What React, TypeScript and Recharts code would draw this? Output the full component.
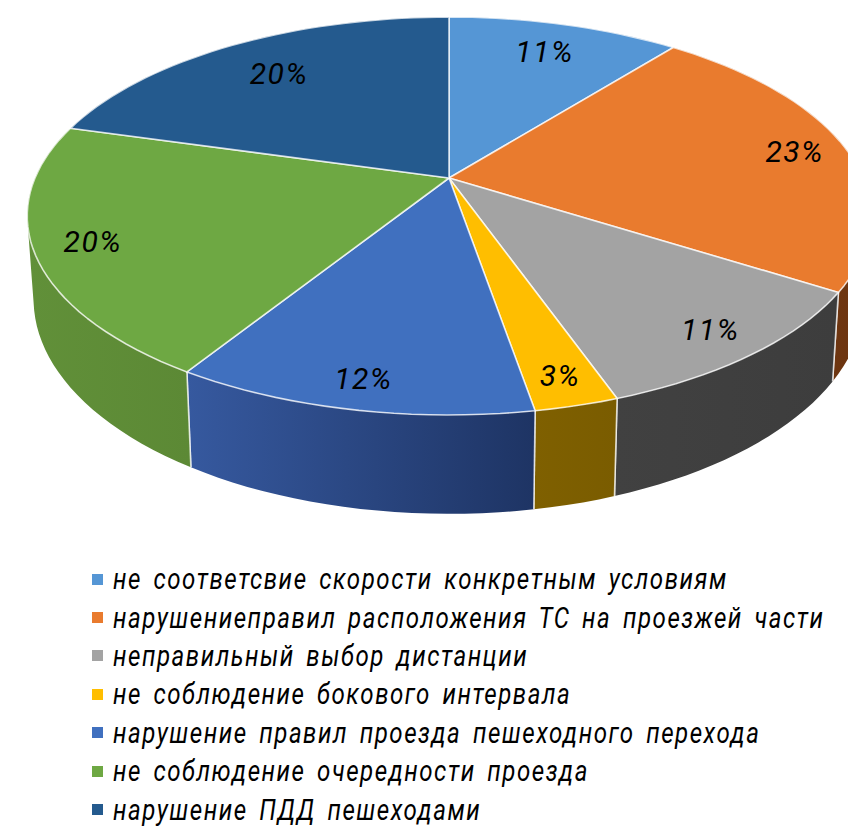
import { PieChart, Pie, Legend } from 'recharts';

const categories = [
  'не соответсвие скорости конкретным условиям',
  'нарушениеправил расположения ТС на проезжей части',
  'неправильный выбор дистанции',
  'не соблюдение бокового интервала',
  'нарушение правил проезда пешеходного перехода',
  'не соблюдение очередности проезда',
  'нарушение ПДД пешеходами',
];
const shares = [10.7, 23.3, 10.6, 2.7, 11.6, 20.5, 20.6];
const shareLabels = ['11%', '23%', '11%', '3%', '12%', '20%', '20%'];

const topColors = ['#5596d5', '#e97b2e', '#a3a3a3', '#ffbe00', '#4070bf', '#6ea843', '#245a8e'];
const wallLight = ['#3a6a96', '#7a3e14', '#414141', '#7f6000', '#36599f', '#619039', '#1f4a72'];
const wallDark = ['#3a6a96', '#6b3410', '#3d3d3d', '#7a5c00', '#1e3464', '#5c8935', '#1f4a72'];
const labelRadius = [0.8, 0.87, 0.88, 0.89, 0.89, 0.867, 0.76];

const rows = categories.map((name, i) => ({ name, value: shares[i], fill: topColors[i] }));

const WIDTH = 848;
const HEIGHT = 827;
const CX = 449;
const CY = 178;
const RX = 414; // outerRadius of the pie, horizontal
const RY = 191.7;
const TILT = 0.191; // perspective of the tilted disc
const DEPTH = 80;
const SHRINK = 0.985;
const RAD = Math.PI / 180;

type Pt = { x: number; y: number };

// unit disc -> screen, with the perspective of the tilted pie
function project(angle: number, r = 1) {
  const u = Math.cos(angle * RAD) * r;
  const v = -Math.sin(angle * RAD) * r;
  const w = 1 - TILT * v;
  return { x: CX + (RX * u) / w, y: CY + (RY * v) / w, w };
}

function lower(p: { x: number; y: number; w: number }) {
  return { x: CX + (p.x - CX) * SHRINK, y: p.y + DEPTH / p.w };
}

function arcPoints(startAngle: number, endAngle: number) {
  const steps = Math.max(2, Math.ceil(Math.abs(endAngle - startAngle) / 2));
  const pts = [];
  for (let i = 0; i <= steps; i++) {
    pts.push(project(startAngle + ((endAngle - startAngle) * i) / steps));
  }
  return pts;
}

const toPath = (pts: Pt[]) =>
  pts.map((p, i) => `${i ? 'L' : 'M'}${p.x.toFixed(1)} ${p.y.toFixed(1)}`).join(' ');

// same winding for every quad, otherwise overlaps cancel under nonzero fill
function wound(pts: Pt[]) {
  let area = 0;
  pts.forEach((p, i) => {
    const q = pts[(i + 1) % pts.length];
    area += p.x * q.y - q.x * p.y;
  });
  return area < 0 ? [...pts].reverse() : pts;
}

function TopSlice(props: any) {
  const pts = arcPoints(props.startAngle, props.endAngle);
  return (
    <path
      d={`M${CX} ${CY} ${toPath(pts).replace('M', 'L')} Z`}
      fill={props.fill}
      stroke="#ffffff"
      strokeOpacity={0.75}
      strokeWidth={1.6}
      strokeLinejoin="round"
    />
  );
}

function WallSlice(props: any, index: number) {
  const top = arcPoints(props.startAngle, props.endAngle);
  const id = `wall-${index}`;
  const first = top[0];
  const last = top[top.length - 1];
  // one quad per arc step, so the silhouette at the left edge is filled too
  const quads = top
    .slice(1)
    .map((p, i) => `${toPath(wound([top[i], p, lower(p), lower(top[i])]))} Z`)
    .join(' ');
  return (
    <g>
      <defs>
        <linearGradient id={id} x1="0" y1="0" x2="1" y2="0">
          <stop offset="0%" stopColor={wallLight[index]} />
          <stop offset="100%" stopColor={wallDark[index]} />
        </linearGradient>
      </defs>
      <path d={quads} fill={`url(#${id})`} />
      <path d={toPath([first, lower(first)])} stroke="#ffffff" strokeOpacity={0.7} strokeWidth={1.6} />
      <path d={toPath([last, lower(last)])} stroke="#ffffff" strokeOpacity={0.7} strokeWidth={1.6} />
    </g>
  );
}

const FONT = 'Roboto, "Liberation Sans", sans-serif';

function SliceLabel(props: any) {
  const p = project(props.midAngle, labelRadius[props.index]);
  return (
    <text
      x={p.x}
      y={p.y}
      textAnchor="middle"
      dominantBaseline="central"
      fontFamily={FONT}
      fontStyle="italic"
      fontSize={30}
      letterSpacing={1.5}
      fill="#000000"
    >
      {shareLabels[props.index]}
    </text>
  );
}

function LegendList({ payload }: any) {
  // both pies report their sectors, keep each category once
  const items = (payload || []).filter(
    (entry: any, i: number, all: any[]) => all.findIndex((e) => e.value === entry.value) === i,
  );
  return (
    <div style={{ fontFamily: FONT, fontStyle: 'italic', fontSize: 29, color: '#000' }}>
      {items.map((entry: any) => (
        <div key={entry.value} style={{ display: 'flex', alignItems: 'center', height: 38.4, whiteSpace: 'nowrap' }}>
          <span style={{ flexShrink: 0, width: 11, height: 11, marginLeft: 92, marginRight: 10, background: entry.color }} />
          <span
            style={{
              flexShrink: 0,
              display: 'inline-block',
              letterSpacing: 1.85,
              wordSpacing: 5,
              transform: 'scaleX(0.83)',
              transformOrigin: 'left center',
            }}
          >
            {entry.value}
          </span>
        </div>
      ))}
    </div>
  );
}

export default function App() {
  return (
    <div style={{ position: 'absolute', left: 0, top: 0, width: WIDTH, height: HEIGHT, overflow: 'hidden' }}>
      <PieChart width={WIDTH} height={HEIGHT} margin={{ top: 0, right: 0, bottom: 0, left: 0 }}>
        <Pie
          data={rows}
          dataKey="value"
          nameKey="name"
          cx={CX}
          cy={CY}
          outerRadius={RX}
          startAngle={90}
          endAngle={-270}
          legendType="none"
          shape={WallSlice}
          isAnimationActive={false}
        />
        <Pie
          data={rows}
          dataKey="value"
          nameKey="name"
          cx={CX}
          cy={CY}
          outerRadius={RX}
          startAngle={90}
          endAngle={-270}
          shape={TopSlice}
          label={SliceLabel}
          labelLine={false}
          isAnimationActive={false}
        />
        <Legend
          layout="vertical"
          verticalAlign="top"
          align="left"
          itemSorter={null}
          content={<LegendList />}
          wrapperStyle={{ left: 0, top: 560, width: WIDTH }}
        />
      </PieChart>
    </div>
  );
}
